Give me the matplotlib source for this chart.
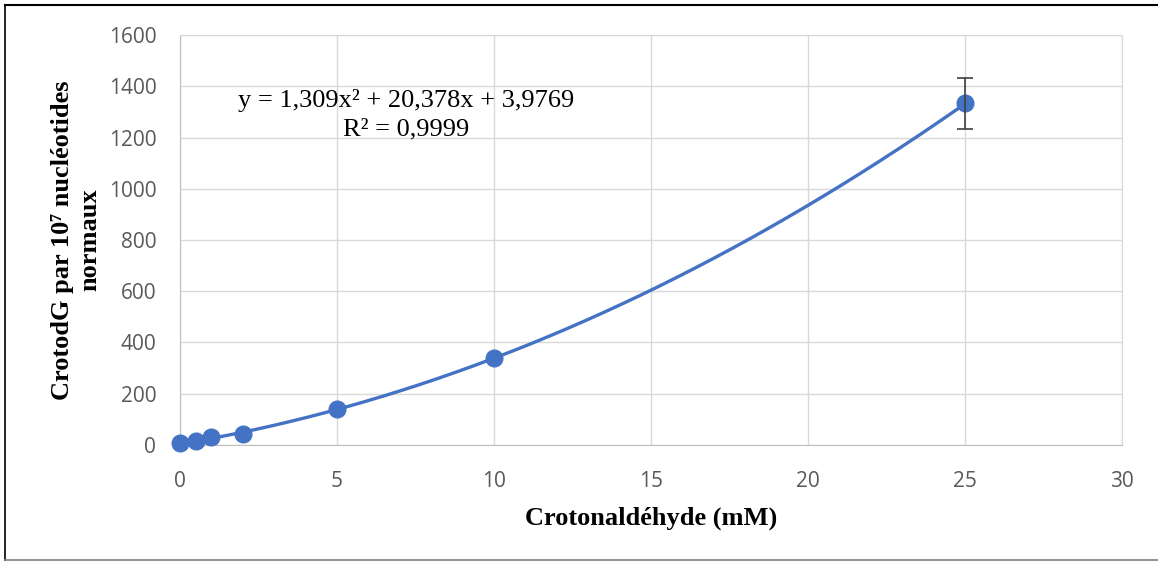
import numpy as np
import matplotlib.pyplot as plt
from matplotlib.lines import Line2D

# concentrations (mM) et adduits mesurés
conc = [0, 0.5, 1, 2, 5, 10, 25]
adducts = [8, 14, 31, 42, 140, 340, 1333]
err = [0, 0, 0, 0, 0, 0, 100]

# tendance polynomiale d'ordre 2
coef = [1.309, 20.378, 3.9769]
r2 = 0.9999

blue = '#4472C4'
grey_txt = '#595959'

fig = plt.figure(figsize=(11.58, 5.61), dpi=100)
ax = fig.add_axes([0.1554, 0.2068, 0.8135, 0.7308])

xs = np.linspace(0, 25, 300)
ax.plot(xs, np.polyval(coef, xs), color=blue, lw=2.4, zorder=3)
ax.plot(conc, adducts, 'o', color=blue, ms=12, zorder=4, clip_on=False)
e = [i for i, v in enumerate(err) if v > 0]
ax.errorbar([conc[i] for i in e], [adducts[i] for i in e], yerr=[err[i] for i in e],
            fmt='none', ecolor='#404040', elinewidth=1.2, capsize=6, capthick=1.2, zorder=5)

ax.set_xlim(0, 30)
ax.set_ylim(0, 1600)
ax.set_xticks(range(0, 31, 5))
ax.set_yticks(range(0, 1601, 200))
ax.grid(True, color='#d9d9d9', lw=1)
ax.set_axisbelow(True)
for s in ax.spines.values():
    s.set_color('#d9d9d9')
ax.spines['left'].set_color('#bfbfbf')
ax.spines['bottom'].set_color('#bfbfbf')
ax.tick_params(length=0, labelsize=15, labelcolor=grey_txt)
ax.tick_params(axis='y', pad=17)
ax.tick_params(axis='x', pad=19)
for lab in ax.get_xticklabels() + ax.get_yticklabels():
    lab.set_family('Open Sans')

ax.set_xlabel('Crotonaldéhyde (mM)', family='Liberation Serif', weight='bold', fontsize=19, labelpad=10)
ax.set_ylabel('CrotodG par 10⁷ nucléotides\nnormaux', family='Liberation Serif', weight='bold',
              fontsize=19, labelpad=5, linespacing=1.25)

ax.text(7.2, 1290, 'y = {:.3f}x² + {:.3f}x + {:.4f}\nR² = {:.4f}'.format(*coef, r2).replace('.', ','),
        family='Liberation Serif', fontsize=19, ha='center', va='center', linespacing=1.4)

# cadre extérieur
fig.add_artist(Line2D([5/1158, 1], [1 - 5/561, 1 - 5/561], color='black', lw=1.5))
fig.add_artist(Line2D([5/1158, 5/1158], [1/561, 1 - 5/561], color='black', lw=1.2))
fig.add_artist(Line2D([5/1158, 1], [1/561, 1/561], color='#7f7f7f', lw=1.2))

fig.savefig('out.png', dpi=100)
